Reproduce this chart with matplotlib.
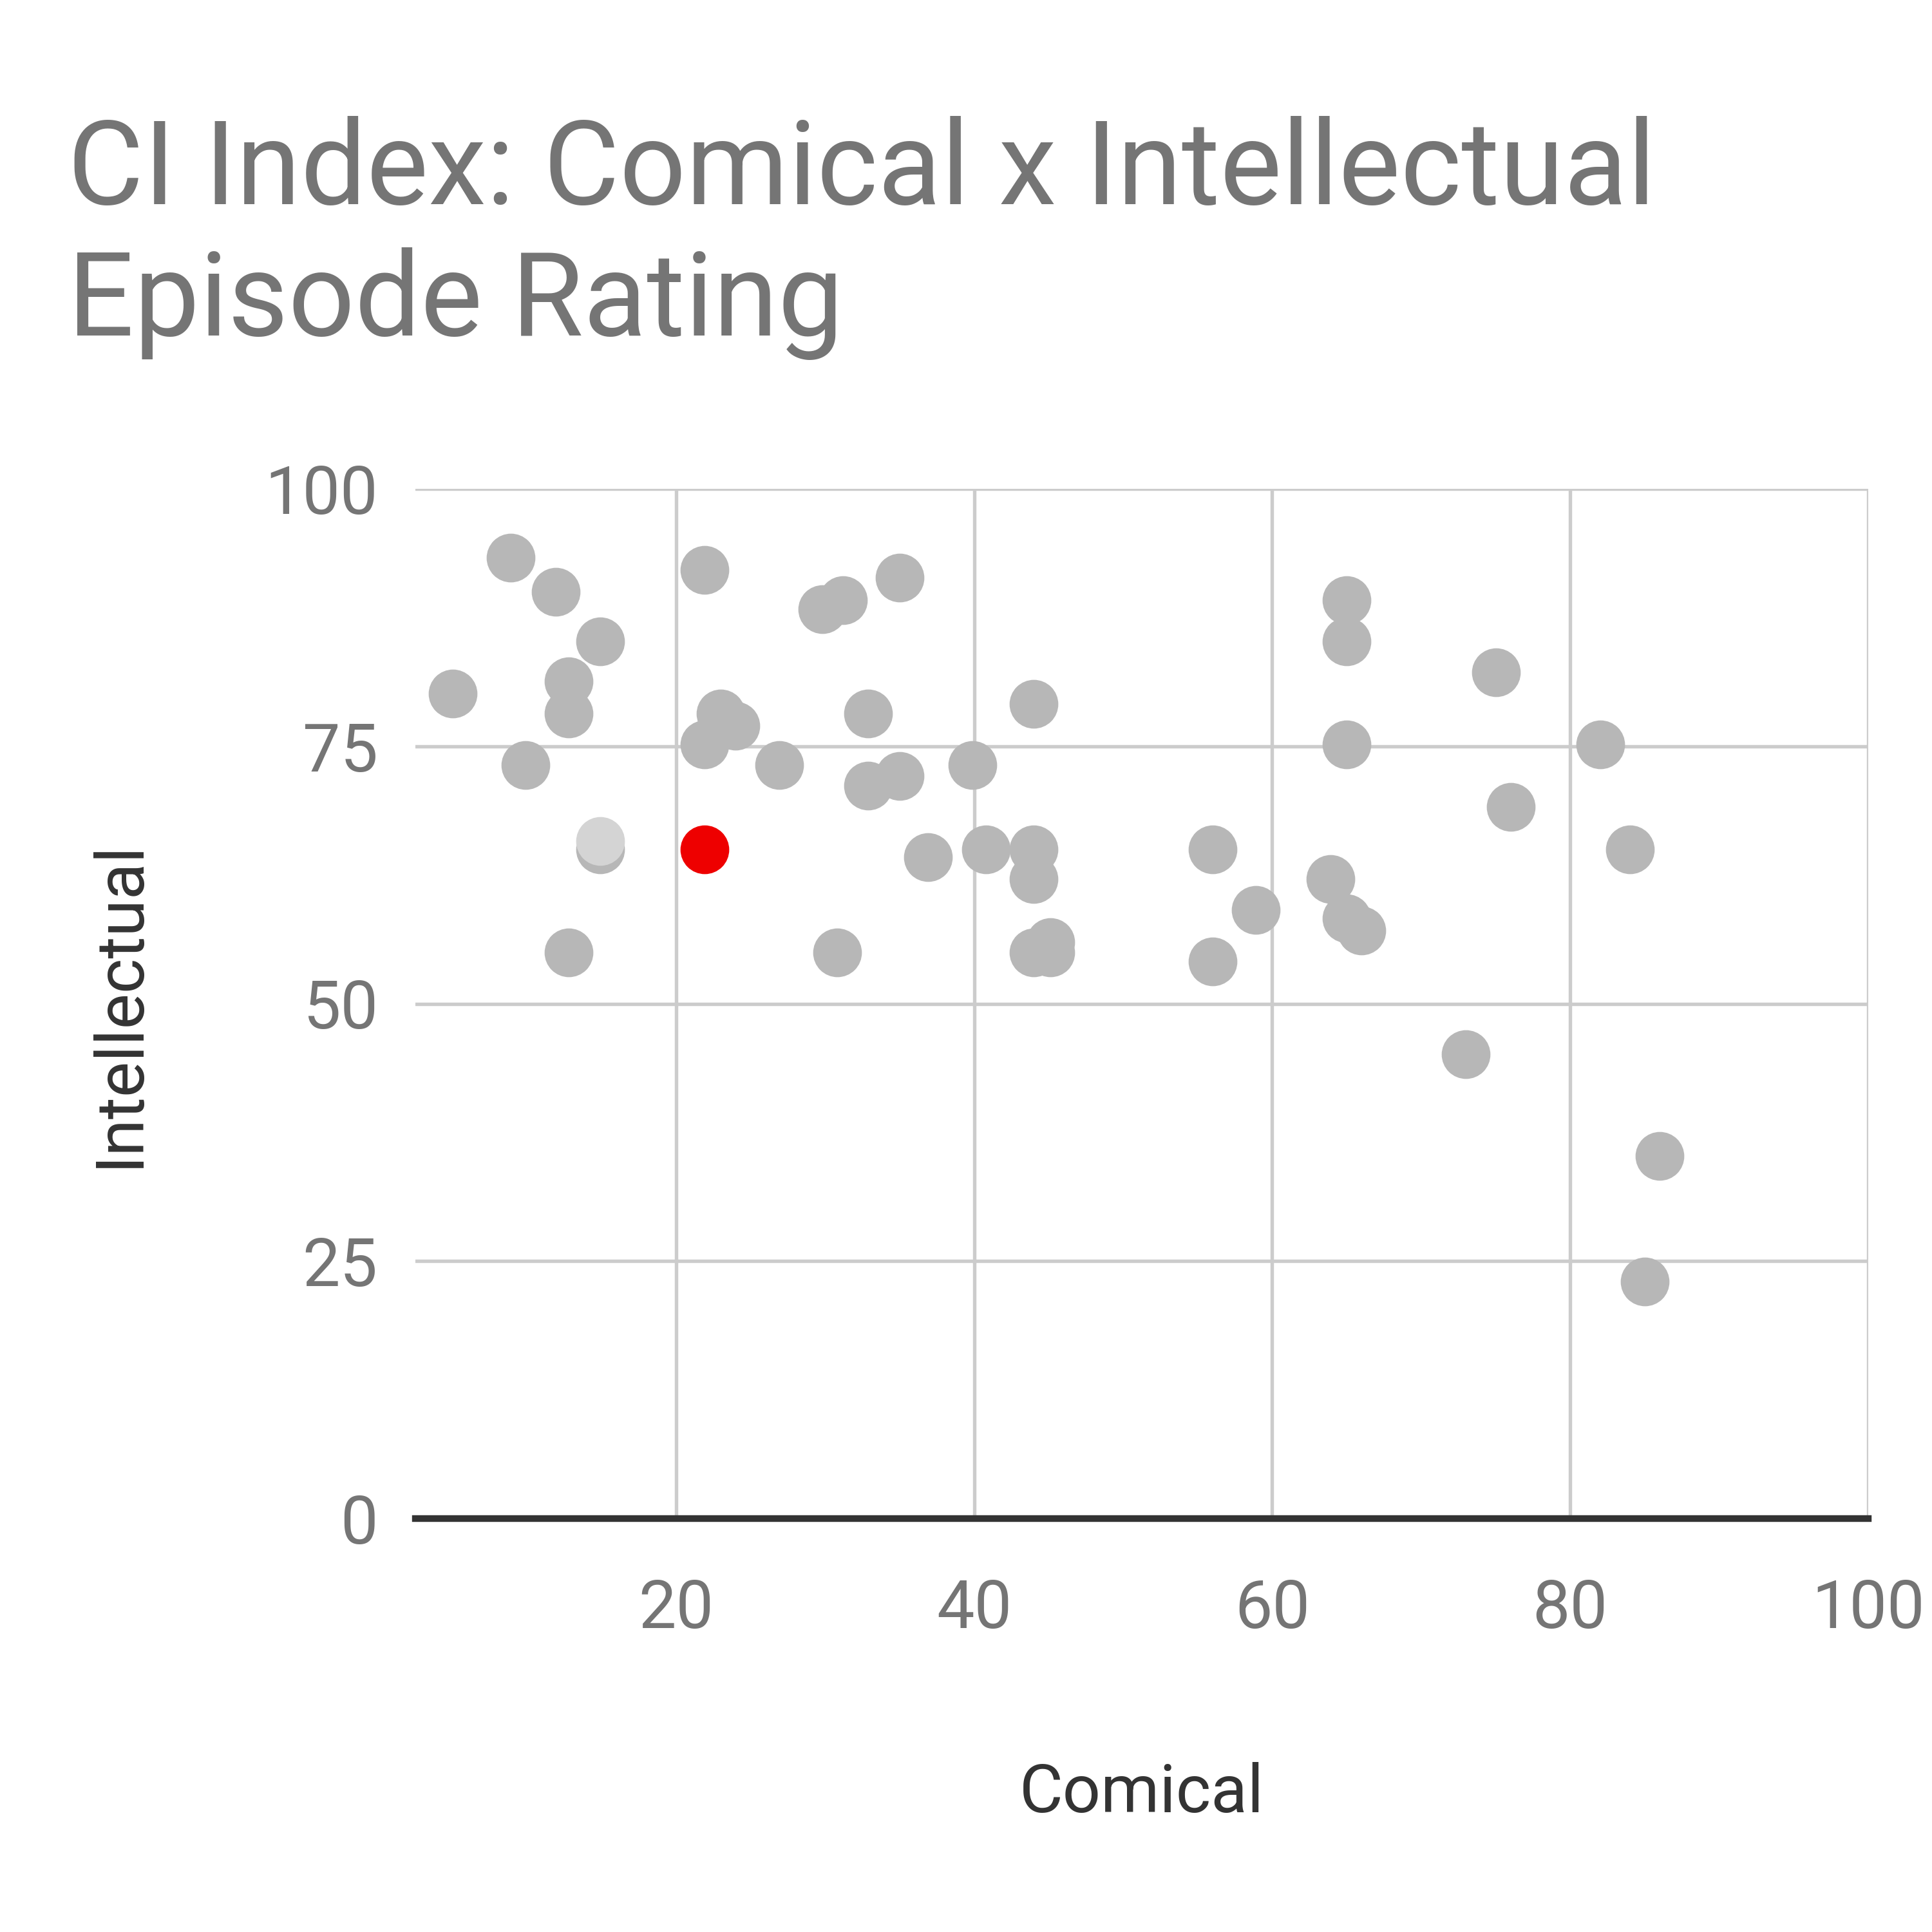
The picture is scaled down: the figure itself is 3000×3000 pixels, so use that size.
import matplotlib.pyplot as plt

# episode ratings
comical = [5, 8.9, 11.9, 14.9, 12.8, 12.8, 9.9, 14.9, 12.8, 21.9, 23, 24, 21.9,
           26.9, 29.8, 31.2, 35, 32.9, 32.9, 35, 36.9, 30.8, 39.9, 40.8, 44, 44,
           44, 44, 45.1, 45.1, 56, 56, 58.9, 63.9, 65, 65, 65, 65, 66, 73, 75,
           76, 82, 84, 86, 85]
intellectual = [80.1, 93.3, 90, 85.2, 81.3, 78.2, 73.2, 65, 55, 92.1, 78.2, 77,
                75.2, 73.2, 88.3, 89.2, 91.4, 78.2, 71.2, 72.1, 64.2, 55, 73.2, 65,
                79.1, 65, 62.1, 55, 56, 55, 65, 54.1, 59.1, 62.1, 89.2, 85.2, 75.2,
                58.3, 57.1, 45.1, 82.2, 69.1, 75.2, 65, 35.2, 23]
light_x, light_y = [14.9], [65.8]
red_x, red_y = [21.9], [65]

plt.rcParams['font.family'] = ['Roboto', 'DejaVu Sans']
fig = plt.figure(figsize=(10, 10), dpi=300)
ax = fig.add_axes([0.215, 0.214, 0.752, 0.533])

ax.scatter(comical, intellectual, s=330, color='#b7b7b7', linewidths=0, zorder=3)
ax.scatter(light_x, light_y, s=330, color='#d4d4d4', linewidths=0, zorder=3)
ax.scatter(red_x, red_y, s=330, color='#ee0000', linewidths=0, zorder=4)

ax.set_xlim(2.5, 100)
ax.set_ylim(0, 100)
ax.set_xticks([20, 40, 60, 80, 100])
ax.set_yticks([0, 25, 50, 75, 100])
ax.grid(color='#cccccc', linewidth=1.3, zorder=0)
for s in ['top', 'right', 'left']:
    ax.spines[s].set_visible(False)
ax.spines['bottom'].set_color('#333333')
ax.spines['bottom'].set_linewidth(2.5)
ax.tick_params(length=0, labelsize=25, labelcolor='#757575', pad=14)
ax.tick_params(axis='x', pad=22)

ax.set_xlabel('Comical', fontsize=25, color='#333333', labelpad=45)
ax.set_ylabel('Intellectual', fontsize=25, color='#333333', labelpad=42)

fig.text(0.035, 0.94, 'CI Index: Comical x Intellectual\nEpisode Rating',
         fontsize=43.5, color='#757575', va='top', ha='left', linespacing=1.22)

fig.savefig('out.png', dpi=300)
